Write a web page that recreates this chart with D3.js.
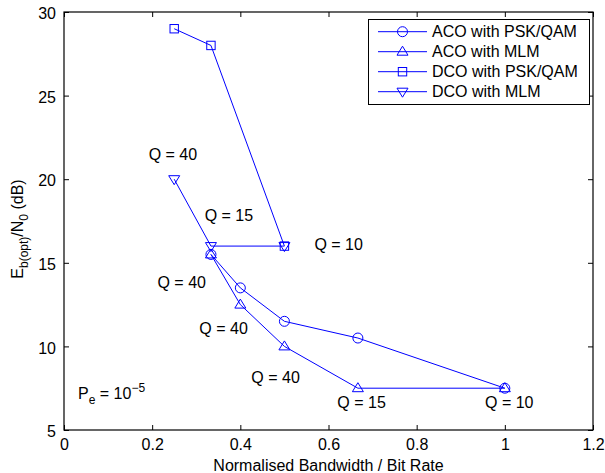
<!DOCTYPE html>
<html>
<head>
<meta charset="utf-8">
<script src="https://cdn.jsdelivr.net/npm/d3@7"></script>
<style>
  html, body { margin: 0; padding: 0; background: #fff; }
  svg { display: block; font-family: "Liberation Sans", Arial, Helvetica, sans-serif; }
</style>
</head>
<body>
<svg id="chart" width="605" height="473"></svg>
<script>
// Normalised bandwidth (x) and optimal Eb/N0 in dB (y) for each scheme
const acoPskX = [1/3, 0.4, 0.5, 2/3, 1];
const acoPskY = [15.5, 13.5, 11.5, 10.5, 7.5];
const acoMlmX = [1/3, 0.4, 0.5, 2/3, 1];
const acoMlmY = [15.5, 12.5, 10, 7.5, 7.5];
const dcoPskX = [0.25, 1/3, 0.5];
const dcoPskY = [29, 28, 16];
const dcoMlmX = [0.25, 1/3, 0.5];
const dcoMlmY = [20, 16, 16];

const seriesNames = ["ACO with PSK/QAM", "ACO with MLM", "DCO with PSK/QAM", "DCO with MLM"];
const seriesMarkers = ["circle", "triangleUp", "square", "triangleDown"];

const xTicks = [0, 0.2, 0.4, 0.6, 0.8, 1, 1.2];
const xTickLabels = ["0", "0.2", "0.4", "0.6", "0.8", "1", "1.2"];
const yTicks = [5, 10, 15, 20, 25, 30];
const yTickLabels = ["5", "10", "15", "20", "25", "30"];

// Q-value annotations (text, x, y in data units)
const qText = ["Q = 40", "Q = 15", "Q = 10", "Q = 40", "Q = 40", "Q = 40", "Q = 15", "Q = 10"];
const qX = [0.247, 0.374, 0.623, 0.267, 0.362, 0.480, 0.675, 1.01];
const qY = [21.15, 17.5, 15.74, 13.49, 10.74, 7.81, 6.32, 6.32];

const svg = d3.select("#chart");
const m = { left: 64, right: 12, top: 12, bottom: 43 };
const W = 605, H = 473;
const x = d3.scaleLinear().domain([0, 1.2]).range([m.left, W - m.right]);
const y = d3.scaleLinear().domain([5, 30]).range([H - m.bottom, m.top]);
const blue = "#0000ff";

// Axes box with inward ticks on all four sides
const tickLen = 5;
svg.append("g").attr("transform", `translate(0,${y(5)})`)
  .call(d3.axisBottom(x).tickValues(xTicks).tickFormat((d, i) => xTickLabels[i]).tickSizeInner(-tickLen).tickSizeOuter(0).tickPadding(9))
  .call(g => g.select(".domain").remove())
  .call(g => g.selectAll("text").attr("font-size", 16).attr("fill", "#000"));
svg.append("g").attr("transform", `translate(0,${y(30)})`)
  .call(d3.axisTop(x).tickValues(xTicks).tickFormat("").tickSizeInner(-tickLen).tickSizeOuter(0))
  .call(g => g.select(".domain").remove());
svg.append("g").attr("transform", `translate(${x(0)},0)`)
  .call(d3.axisLeft(y).tickValues(yTicks).tickFormat((d, i) => yTickLabels[i]).tickSizeInner(-tickLen).tickSizeOuter(0).tickPadding(8))
  .call(g => g.select(".domain").remove())
  .call(g => g.selectAll("text").attr("font-size", 16).attr("fill", "#000").attr("dy", "0.42em"));
svg.append("g").attr("transform", `translate(${x(1.2)},0)`)
  .call(d3.axisRight(y).tickValues(yTicks).tickFormat("").tickSizeInner(-tickLen).tickSizeOuter(0))
  .call(g => g.select(".domain").remove());
svg.selectAll(".tick line").attr("stroke", "#000");
svg.append("rect")
  .attr("x", x(0)).attr("y", y(30))
  .attr("width", x(1.2) - x(0)).attr("height", y(5) - y(30))
  .attr("fill", "none").attr("stroke", "#000").attr("stroke-width", 1.2);

// Marker shapes
function drawMarker(g, type, cx, cy) {
  if (type === "circle") {
    g.append("circle").attr("cx", cx).attr("cy", cy).attr("r", 5);
  } else if (type === "square") {
    g.append("rect").attr("x", cx - 4.2).attr("y", cy - 4.2).attr("width", 8.4).attr("height", 8.4);
  } else if (type === "triangleUp") {
    g.append("path").attr("d", `M${cx},${cy - 5.5}L${cx + 5.5},${cy + 3.5}L${cx - 5.5},${cy + 3.5}Z`);
  } else {
    g.append("path").attr("d", `M${cx},${cy + 5.5}L${cx + 5.5},${cy - 3.5}L${cx - 5.5},${cy - 3.5}Z`);
  }
}

const series = [
  { xs: acoPskX, ys: acoPskY },
  { xs: acoMlmX, ys: acoMlmY },
  { xs: dcoPskX, ys: dcoPskY },
  { xs: dcoMlmX, ys: dcoMlmY }
];
const line = d3.line().x(d => x(d[0])).y(d => y(d[1]));
series.forEach((s, i) => {
  const pts = s.xs.map((v, j) => [v, s.ys[j]]);
  const g = svg.append("g").attr("fill", "none").attr("stroke", blue).attr("stroke-width", 1);
  g.append("path").attr("d", line(pts));
  pts.forEach(p => drawMarker(g, seriesMarkers[i], x(p[0]), y(p[1])));
});

// Q annotations
svg.append("g").selectAll("text").data(qText).join("text")
  .attr("x", (d, i) => x(qX[i])).attr("y", (d, i) => y(qY[i]))
  .attr("text-anchor", "middle").attr("font-size", 16).attr("fill", "#000")
  .text(d => d);

// Error probability note
const pe = svg.append("text").attr("x", 78).attr("y", 399).attr("font-size", 16).attr("fill", "#000");
pe.append("tspan").text("P");
pe.append("tspan").attr("font-size", 12).attr("dy", 5).text("e");
pe.append("tspan").attr("dy", -5).text(" = 10");
pe.append("tspan").attr("font-size", 12).attr("dy", -7).text("\u22125");

// Axis titles
svg.append("text").attr("x", (x(0) + x(1.2)) / 2).attr("y", 470.5)
  .attr("text-anchor", "middle").attr("font-size", 16).attr("fill", "#000")
  .text("Normalised Bandwidth / Bit Rate");
const yt = svg.append("text")
  .attr("transform", `translate(23,229) rotate(-90)`)
  .attr("text-anchor", "middle").attr("font-size", 16).attr("fill", "#000");
yt.append("tspan").text("E");
yt.append("tspan").attr("font-size", 12).attr("dy", 5).text("b(opt)");
yt.append("tspan").attr("dy", -5).text("/N");
yt.append("tspan").attr("font-size", 12).attr("dy", 5).text("0");
yt.append("tspan").attr("dy", -5).text(" (dB)");

// Legend
const lg = svg.append("g");
lg.append("rect").attr("x", 368.5).attr("y", 19.5).attr("width", 221).attr("height", 85)
  .attr("fill", "#fff").attr("stroke", "#000").attr("stroke-width", 1);
seriesNames.forEach((name, i) => {
  const cy = 31.7 + i * 20;
  const g = lg.append("g").attr("fill", "none").attr("stroke", blue).attr("stroke-width", 1);
  g.append("line").attr("x1", 378).attr("x2", 427).attr("y1", cy).attr("y2", cy);
  drawMarker(g, seriesMarkers[i], 402.5, cy);
  lg.append("text").attr("x", 432).attr("y", cy).attr("dy", "0.36em")
    .attr("font-size", 16).attr("fill", "#000").text(name);
});
</script>
</body>
</html>
